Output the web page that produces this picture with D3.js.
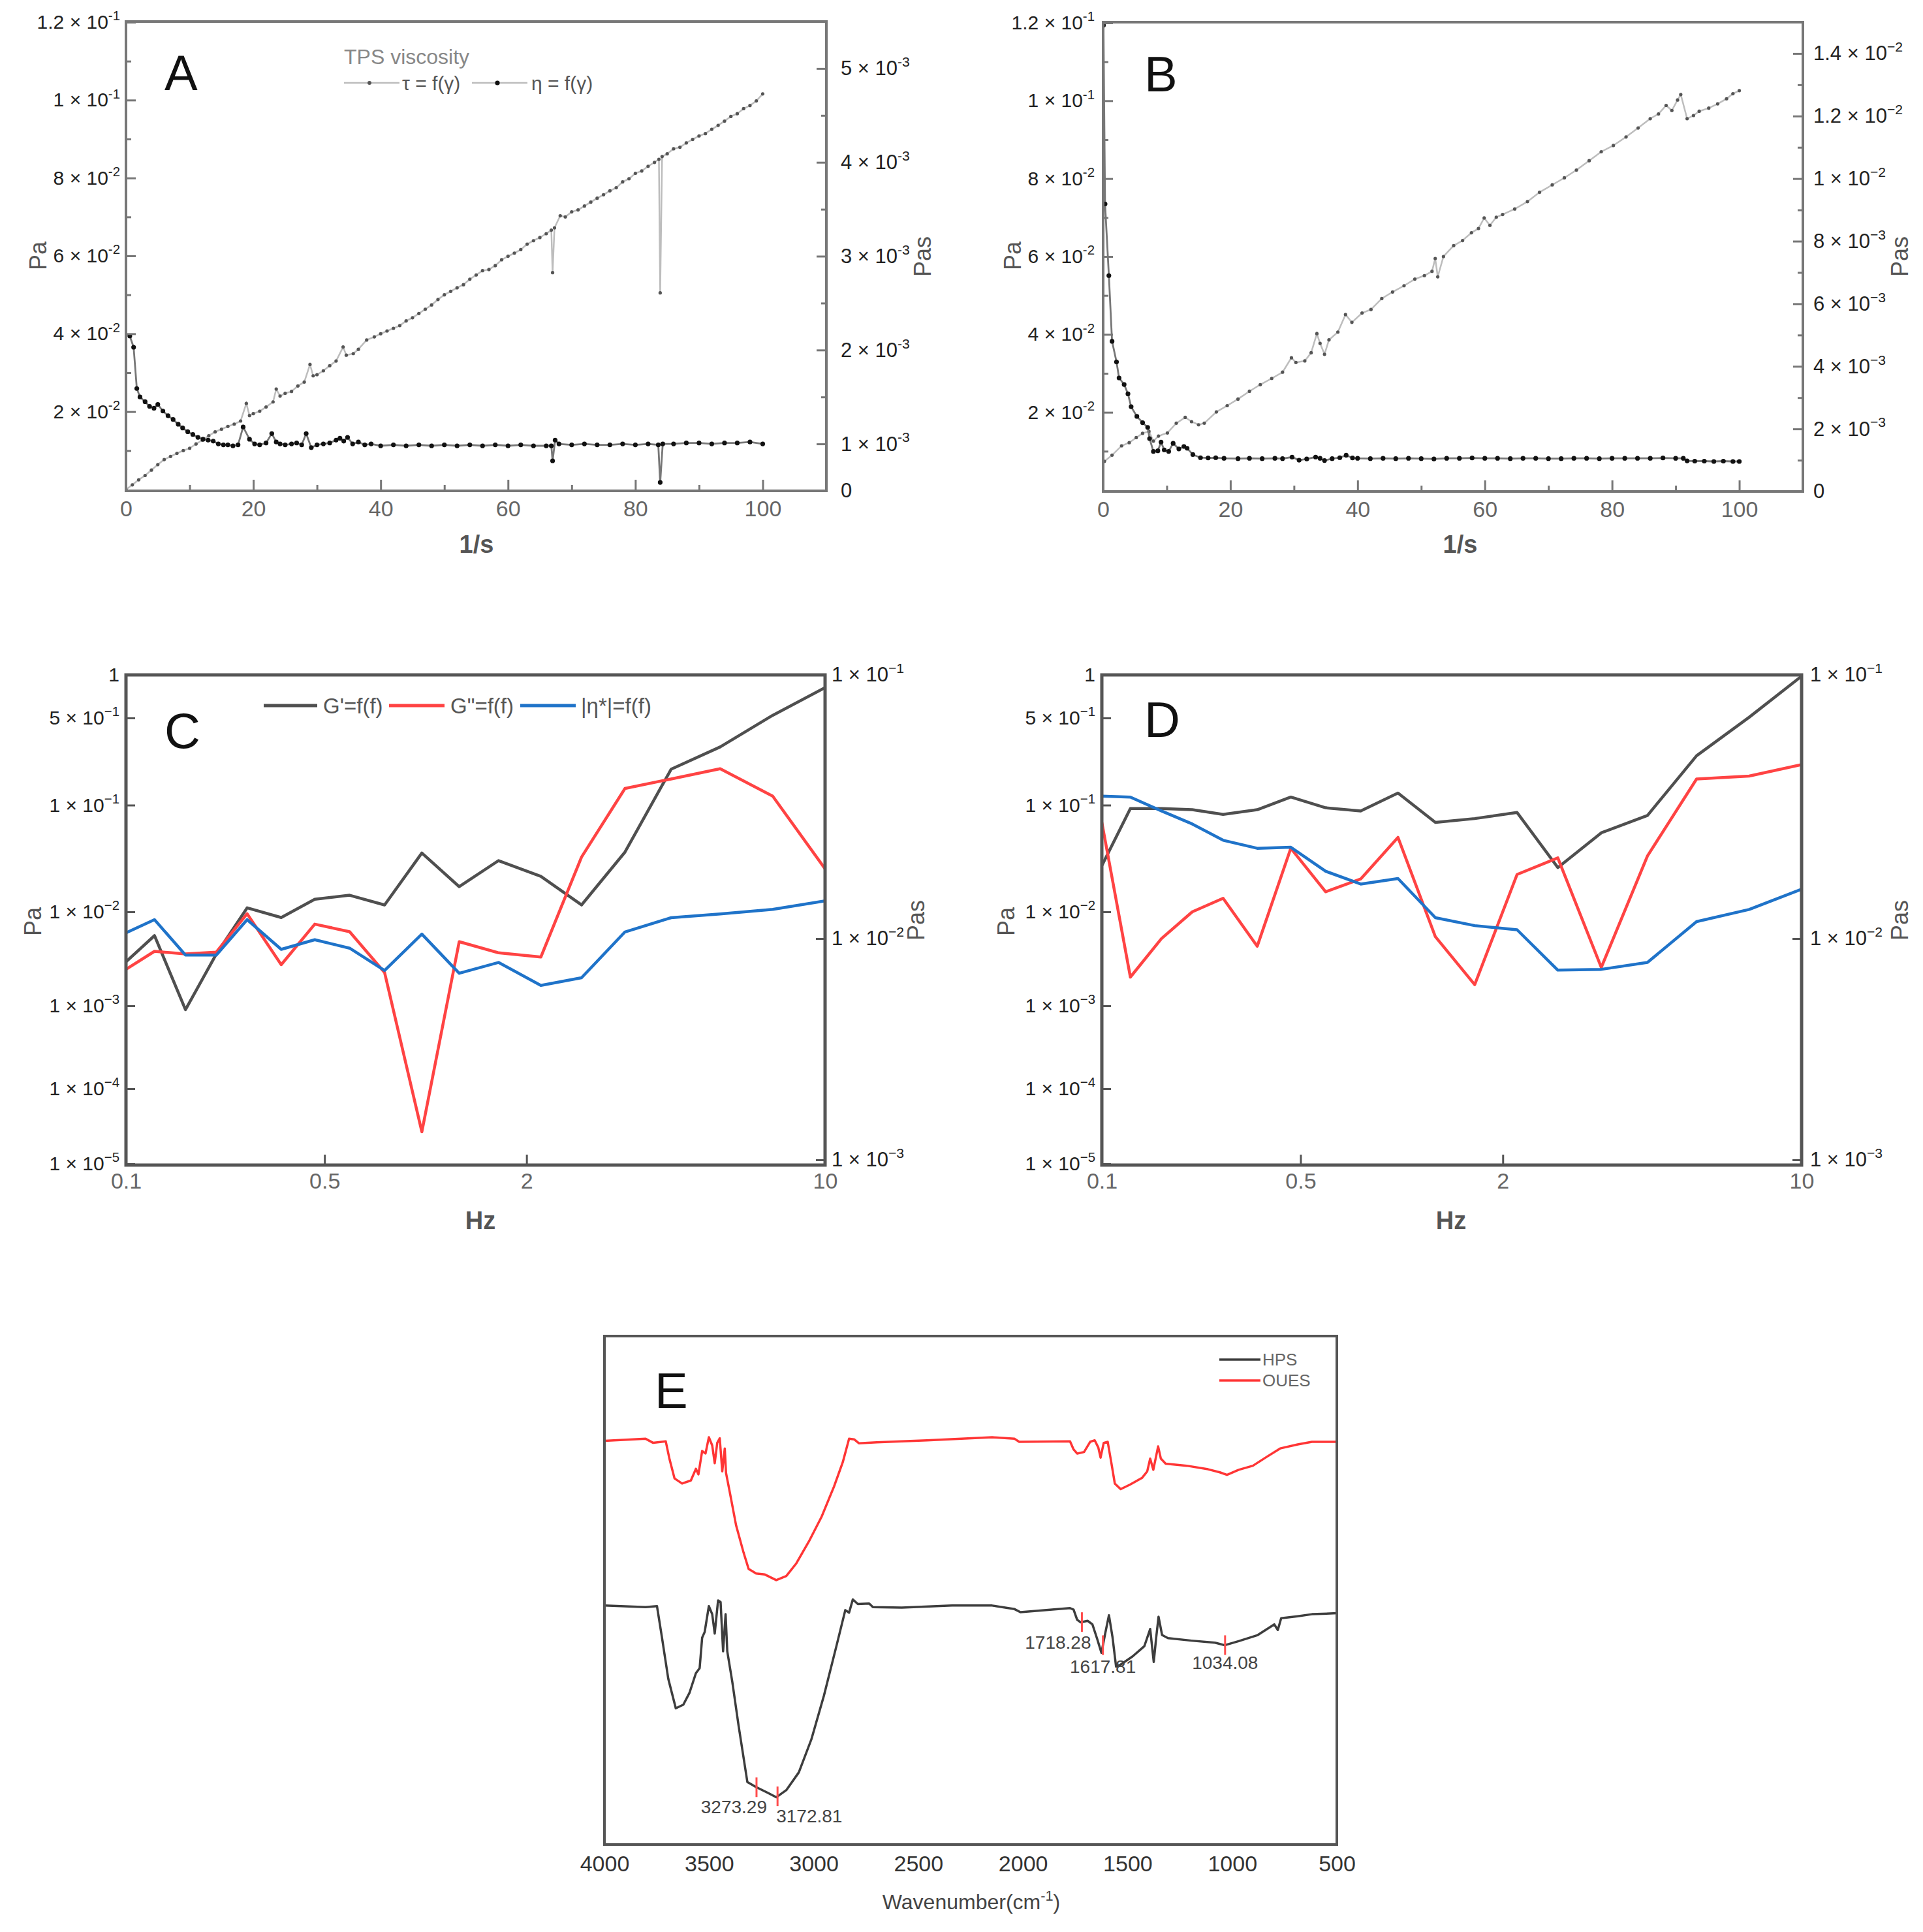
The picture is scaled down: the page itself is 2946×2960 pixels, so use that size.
<!DOCTYPE html>
<html><head><meta charset="utf-8">
<script src="https://cdn.jsdelivr.net/npm/d3@7"></script>
<style>html,body{margin:0;padding:0;background:#fff;} svg{display:block;font-family:"Liberation Sans",Arial,Helvetica,sans-serif;}</style>
</head><body>
<svg id="chart" width="2946" height="2960" viewBox="0 0 2946 2960"></svg>
<script>
// ---------------- DATA ----------------
// Panel A: shear rate (1/s) vs shear stress tau (Pa, left axis) and viscosity eta (Pa s, right axis)
const tauA = [[0,0.0000],[1,0.0012],[2,0.0025],[3,0.0036],[4,0.0050],[5,0.0064],[6,0.0077],[7,0.0085],[8,0.0093],[9,0.0100],
[10,0.0106],[11,0.0117],[12,0.0127],[13,0.0138],[14,0.0148],[15,0.0155],[16,0.0162],[17,0.0168],[18,0.0176],[18.9,0.0221],[19.4,0.0190],
[20,0.0195],[21,0.0201],[22,0.0212],[23.1,0.0225],[23.6,0.0258],[24.2,0.0240],[25,0.0247],[26,0.0252],[27,0.0266],[28,0.0276],[28.9,0.0321],[29.4,0.0292],
[30,0.0295],[31,0.0305],[32,0.0318],[33,0.0330],[34.1,0.0366],[34.6,0.0345],[35.7,0.0349],[36.5,0.0360],[37.8,0.0384],[39,0.0392],
[40,0.0400],[41,0.0407],[42,0.0414],[43,0.0421],[44,0.0433],[45,0.0441],[46,0.0452],[47,0.0463],[48,0.0474],[49,0.0488],
[50,0.0500],[51,0.0509],[52,0.0518],[53,0.0526],[54,0.0540],[55,0.0551],[56,0.0562],[57,0.0565],[58,0.0575],[59,0.0590],
[60,0.0599],[61,0.0607],[62,0.0616],[63,0.0630],[64,0.0639],[65,0.0647],[66,0.0657],[66.8,0.0666],[67,0.0557],[67.3,0.0672],[68.2,0.0703],[69,0.0700],
[70,0.0713],[71,0.0718],[72,0.0728],[73,0.0738],[74,0.0748],[75,0.0757],[76,0.0767],[77,0.0775],[78,0.0790],[79,0.0798],
[80,0.0812],[81,0.0818],[82,0.0830],[83,0.0840],[83.7,0.0848],[83.9,0.0505],[84.2,0.0855],[85,0.0862],[86,0.0875],[87,0.0879],[88,0.0890],[89,0.0899],
[90,0.0908],[91,0.0914],[92,0.0925],[93,0.0935],[94,0.0946],[95,0.0958],[96,0.0965],[97,0.0978],[98,0.0986],[99,0.0998],[100,0.1016]];

const etaA = [[0.6,0.00215],[1.2,0.00203],[1.7,0.00159],[2.2,0.00150],[3,0.00145],[3.7,0.00140],[4.4,0.00138],[5,0.00142],[5.8,0.00135],[6.6,0.00130],
[7.4,0.00126],[8.2,0.00121],[8.9,0.00117],[9.7,0.00113],[10.5,0.00110],[11.3,0.00107],[12.1,0.00105],[12.9,0.00104],[13.7,0.00103],[14.5,0.00100],
[15.3,0.00099],[16,0.00099],[16.8,0.00098],[17.6,0.00099],[18.4,0.00118],[19.4,0.00105],[20.2,0.00100],[21,0.00099],[22,0.00101],[22.9,0.00111],
[23.6,0.00102],[24.2,0.00100],[25,0.00099],[26,0.00100],[26.8,0.00101],[27.6,0.00099],[28.3,0.00111],[29.1,0.00096],[30,0.00099],[31,0.00100],
[32,0.00101],[33,0.00104],[33.6,0.00106],[34.2,0.00103],[34.8,0.00107],[35.6,0.00100],[36.5,0.00102],[37.5,0.00099],[38.5,0.00100],[40,0.00098],
[42,0.00099],[44,0.00098],[46,0.00099],[48,0.00098],[50,0.00099],[52,0.00098],[54,0.00099],[56,0.00098],[58,0.00099],[60,0.00098],
[62,0.00099],[64,0.00098],[66,0.00098],[66.8,0.00098],[67,0.00082],[67.4,0.00104],[68,0.00100],[70,0.00099],[72,0.00100],[74,0.00099],
[76,0.00099],[78,0.00100],[80,0.00099],[82,0.00100],[83.6,0.00099],[83.9,0.00059],[84.3,0.00100],[86,0.00100],[88,0.00101],[90,0.00101],
[92,0.00100],[94,0.00101],[96,0.00101],[98,0.00102],[100,0.00100]];

// Panel B
const tauB = [[0.2,0.0074],[1.4,0.0090],[2.9,0.0114],[4.1,0.0122],[5.2,0.0135],[6.2,0.0146],[7.2,0.0151],[7.9,0.0126],[8.7,0.0139],[10.1,0.0147],
[11.5,0.0172],[12.9,0.0187],[13.9,0.0176],[15.0,0.0168],[15.9,0.0172],[17.8,0.0201],[19.5,0.0217],[21.2,0.0234],[23.0,0.0254],[24.7,0.0271],
[26.5,0.0287],[28.2,0.0303],[29.6,0.0340],[30.3,0.0328],[31.7,0.0332],[32.7,0.0353],[33.6,0.0402],[34.1,0.0377],[34.8,0.0349],[35.5,0.0386],
[36.9,0.0406],[38.1,0.0451],[39.1,0.0431],[40.7,0.0455],[42.1,0.0464],[43.8,0.0492],[45.5,0.0509],[47.3,0.0525],[49.0,0.0542],[50.5,0.0551],
[51.7,0.0562],[52.2,0.0595],[52.6,0.0548],[53.5,0.0600],[55.1,0.0628],[56.5,0.0641],[57.9,0.0661],[59.0,0.0672],[59.9,0.0699],[60.8,0.0680],
[61.8,0.0701],[62.8,0.0708],[64.7,0.0722],[66.7,0.0741],[68.6,0.0765],[70.6,0.0784],[72.5,0.0802],[74.4,0.0822],[76.4,0.0846],[78.3,0.0869],
[80.2,0.0885],[82.2,0.0907],[84.1,0.0930],[86.0,0.0954],[87.3,0.0966],[88.5,0.0988],[89.4,0.0975],[90.3,0.1002],[90.8,0.1016],[91.8,0.0954],
[92.8,0.0962],[93.7,0.0973],[95.2,0.0981],[96.6,0.0992],[98.0,0.1005],[99.0,0.1018],[100,0.1026]];

const etaB = [[0.05,0.0149],[0.3,0.00919],[0.9,0.00690],[1.4,0.00480],[2.1,0.00414],[2.5,0.00363],[3.3,0.00342],[3.9,0.00312],[4.4,0.00271],[5.3,0.00240],
[6.2,0.00220],[7.0,0.00205],[7.3,0.00169],[7.9,0.00128],[8.6,0.00130],[9.1,0.00158],[9.6,0.00133],[10.3,0.00128],[11.0,0.00154],[11.9,0.00136],
[12.7,0.00144],[13.2,0.00138],[14.1,0.00118],[15.3,0.00108],[16.5,0.00107],[17.7,0.00108],[19,0.00106],[21.2,0.00105],[23,0.00106],[25,0.00105],
[27,0.00106],[28.2,0.00105],[29.7,0.00110],[30.8,0.00100],[32,0.00104],[33.4,0.00110],[34.1,0.00106],[34.8,0.00099],[36,0.00105],[37.2,0.00108],
[38.2,0.00116],[39.2,0.00107],[40,0.00106],[42,0.00105],[44,0.00106],[46,0.00105],[48,0.00106],[50,0.00105],[52,0.00104],[54,0.00106],
[56,0.00106],[58,0.00107],[60,0.00106],[62,0.00106],[64,0.00105],[66,0.00106],[68,0.00106],[70,0.00105],[72,0.00105],[74,0.00106],
[76,0.00106],[78,0.00105],[80,0.00106],[82,0.00106],[84,0.00106],[86,0.00106],[88,0.00107],[90,0.00106],[91.2,0.00106],[91.8,0.00098],
[93,0.00097],[94.5,0.00097],[96,0.00096],[97.5,0.00097],[99,0.00096],[100,0.00096]];

// Panels C & D: frequency sweep
const freq = [0.1,0.126,0.162,0.208,0.267,0.352,0.462,0.594,0.755,0.975,1.26,1.65,2.16,2.69,3.40,4.36,5.68,7.54,10];
const gpC  = [2.94e-3,5.58e-3,8.98e-4,3.56e-3,1.09e-2,8.69e-3,1.31e-2,1.43e-2,1.16e-2,3.56e-2,1.72e-2,3.02e-2,2.15e-2,1.16e-2,3.63e-2,0.194,0.293,0.522,0.815];
const gppC = [2.44e-3,3.80e-3,3.56e-3,3.73e-3,9.55e-3,2.74e-3,7.40e-3,6.14e-3,2.26e-3,2.67e-5,4.81e-3,3.66e-3,3.30e-3,3.26e-2,0.136,0.162,0.196,0.118,2.53e-2];
const etaC = [1.052e-2,1.18e-2,8.42e-3,8.42e-3,1.18e-2,8.94e-3,9.88e-3,9.05e-3,7.17e-3,1.04e-2,6.97e-3,7.80e-3,6.14e-3,6.65e-3,1.06e-2,1.20e-2,1.24e-2,1.29e-2,1.39e-2];
const gpD  = [2.71e-2,9.28e-2,9.28e-2,9.05e-2,8.19e-2,9.05e-2,0.116,9.44e-2,8.82e-2,0.125,6.89e-2,7.48e-2,8.53e-2,2.60e-2,5.50e-2,8.00e-2,0.249,0.506,0.98];
const gppD = [6.89e-2,2.02e-3,5.18e-3,1.0e-2,1.34e-2,4.30e-3,3.94e-2,1.54e-2,2.03e-2,4.98e-2,5.43e-3,1.68e-3,2.24e-2,3.20e-2,2.56e-3,3.34e-2,0.162,0.171,0.211];
const etaD = [3.47e-2,3.44e-2,3.05e-2,2.72e-2,2.36e-2,2.20e-2,2.22e-2,1.80e-2,1.61e-2,1.69e-2,1.20e-2,1.12e-2,1.08e-2,7.20e-3,7.26e-3,7.80e-3,1.16e-2,1.29e-2,1.54e-2];

// Panel E: FTIR spectra [wavenumber cm-1, transmittance (a.u.)]
const oues = [[4000,79.4],[3803,79.8],[3767,79.0],[3707,79.3],[3689,75.8],[3665,72.0],[3629,71.0],[3587,71.6],[3563,73.9],[3551,72.8],
[3533,77.4],[3517,76.9],[3501,80.1],[3485,78.5],[3473,75.0],[3461,79.0],[3449,79.9],[3437,73.4],[3425,77.9],[3419,73.1],
[3401,69.3],[3371,62.8],[3335,57.4],[3311,54.2],[3275,53.3],[3233,53.1],[3179,52.0],[3131,52.8],[3083,55.3],[3023,59.6],
[2963,64.4],[2903,70.4],[2861,75.2],[2831,79.8],[2807,79.7],[2783,78.9],[2699,79.1],[2459,79.5],[2147,80.1],[2040,79.8],
[2018,79.2],[1775,79.3],[1758,77.7],[1741,76.9],[1708,77.2],[1679,79.2],[1657,79.5],[1640,78.1],[1629,76.1],[1614,79.0],
[1595,79.2],[1578,75.2],[1561,71.0],[1533,69.9],[1488,70.8],[1431,72.1],[1406,73.4],[1392,75.9],[1377,73.7],[1366,75.9],
[1354,78.3],[1341,75.9],[1318,74.9],[1217,74.5],[1115,73.8],[1059,73.2],[1025,72.7],[969,73.7],[901,74.5],[833,76.3],
[771,77.9],[687,78.7],[619,79.2],[500,79.2]];
const hps = [[4000,47.0],[3803,46.7],[3749,46.9],[3725,40.7],[3695,32.6],[3659,26.8],[3623,27.5],[3593,29.9],[3563,33.7],[3545,34.7],
[3533,40.7],[3521,41.8],[3501,46.9],[3485,45.3],[3473,41.5],[3457,48.0],[3445,47.7],[3433,38.0],[3421,45.3],[3413,38.0],
[3389,32.0],[3359,23.4],[3317,12.3],[3275,11.3],[3221,10.2],[3179,9.3],[3131,10.7],[3071,14.2],[3011,20.7],[2951,29.3],
[2891,39.1],[2849,46.1],[2831,45.6],[2813,48.2],[2789,47.3],[2735,47.4],[2717,46.7],[2579,46.6],[2339,47.0],[2147,47.0],
[2040,46.3],[2012,45.7],[1775,46.5],[1758,46.2],[1741,44.2],[1724,43.7],[1691,44.0],[1668,43.3],[1645,40.4],[1625,37.7],
[1606,41.7],[1589,45.1],[1572,40.8],[1555,35.0],[1533,35.4],[1476,37.0],[1420,39.0],[1392,42.4],[1375,35.9],[1363,40.8],
[1352,44.8],[1335,41.2],[1307,40.6],[1194,40.1],[1082,39.7],[1036,39.2],[969,40.0],[878,41.2],[799,43.3],[782,42.2],
[766,44.5],[687,44.9],[619,45.3],[500,45.5]];
const peakWavenumbers = [3273.29, 3172.81, 1718.28, 1617.81, 1034.08];

// tick values
const xTicksFlow = [0,20,40,60,80,100];
const xMinorFlow = [10,30,50,70,90];
const yLeftFlow = [0.02,0.04,0.06,0.08,0.10,0.12];
const yLeftFlowMinor = [0.01,0.03,0.05,0.07,0.09,0.11];
const yRightA = [0.001,0.002,0.003,0.004,0.005];
const yRightAMinor = [0.0015,0.0025,0.0035,0.0045];
const yRightB = [0,0.002,0.004,0.006,0.008,0.010,0.012,0.014];
const yRightBMinor = [0.001,0.003,0.005,0.007,0.009,0.011,0.013];
const xTicksFreq = [0.1,0.5,2,10];
const yLeftFreq = [1e-5,1e-4,1e-3,1e-2,1e-1,0.5,1];
const yRightFreq = [1e-3,1e-2,1e-1];
const xTicksE = [4000,3500,3000,2500,2000,1500,1000,500];

// ---------------- DRAWING ----------------
const svg = d3.select("#chart");
svg.append("rect").attr("width",2946).attr("height",2960).attr("fill","#fff");

function sciParts(v){
  const e = Math.floor(Math.log10(v) + 1e-9);
  const m = +(v / Math.pow(10, e)).toFixed(2);
  return [String(m), e];
}
function setSci(g, minus, special){
  g.selectAll(".tick text").each(function(d){
    const t = d3.select(this);
    t.text(null);
    const sp = special ? special(d) : null;
    if (sp != null) { t.text(sp); return; }
    const [m, e] = sciParts(d);
    t.append("tspan").text(m + " \u00d7 10");
    t.append("tspan").attr("dy","-0.62em").attr("font-size","0.68em").text((e < 0 ? minus : "") + Math.abs(e));
  });
}
function styleAxis(g, stroke, fs, fill){
  g.select(".domain").remove();
  g.attr("font-family", null).attr("font-size", fs);
  g.selectAll(".tick line").attr("stroke", stroke).attr("stroke-width", 3);
  g.selectAll(".tick text").attr("fill", fill);
}
function frame(x0,y0,x1,y1,color,w){
  svg.append("rect").attr("x",x0).attr("y",y0).attr("width",x1-x0).attr("height",y1-y0)
    .attr("fill","none").attr("stroke",color).attr("stroke-width",w);
}
function rotLabel(x,y,txt,fs){
  svg.append("text").attr("transform",`translate(${x},${y}) rotate(-90)`).attr("text-anchor","middle")
    .attr("dy","0.35em").attr("font-size",fs).attr("fill","#555").text(txt);
}
function plainLabel(x,y,txt,fs,weight){
  svg.append("text").attr("x",x).attr("y",y).attr("text-anchor","middle").attr("dy","0.35em")
    .attr("font-size",fs).attr("font-weight",weight||"normal").attr("fill","#555").text(txt);
}
function letter(x,y,t){
  svg.append("text").attr("x",x).attr("y",y).attr("font-size",76).attr("fill","#111").text(t);
}
function clip(id,x0,y0,x1,y1){
  svg.append("clipPath").attr("id",id).append("rect").attr("x",x0).attr("y",y0).attr("width",x1-x0).attr("height",y1-y0);
  return svg.append("g").attr("clip-path",`url(#${id})`);
}

// ---- Flow curves (A, B) ----
function drawFlow(p){
  const x = d3.scaleLinear().domain([0,110]).range([p.x0, p.x1]);
  const yL = d3.scaleLinear().domain([0,0.12]).range([p.y1-2, p.y0+1]);
  const yR = d3.scaleLinear().domain(p.rDom).range([p.y1, p.y0]);
  const g = clip("clip"+p.id, p.x0, p.y0, p.x1, p.y1);
  const lt = d3.line().x(d=>x(d[0])).y(d=>yL(d[1]));
  const le = d3.line().x(d=>x(d[0])).y(d=>yR(d[1]));
  g.append("path").attr("d", lt(p.tau)).attr("fill","none").attr("stroke","#bdbdbd").attr("stroke-width",2.5);
  g.selectAll(null).data(p.tau).join("circle").attr("cx",d=>x(d[0])).attr("cy",d=>yL(d[1])).attr("r",2.6).attr("fill","#555");
  g.append("path").attr("d", le(p.eta)).attr("fill","none").attr("stroke","#777").attr("stroke-width",2.8);
  g.selectAll(null).data(p.eta).join("circle").attr("cx",d=>x(d[0])).attr("cy",d=>yR(d[1])).attr("r",3.6).attr("fill","#111");

  frame(p.x0,p.y0,p.x1,p.y1,"#777",4);
  const gl = svg.append("g").attr("transform",`translate(${p.x0},0)`)
    .call(d3.axisLeft(yL).tickValues(yLeftFlow).tickSize(-15).tickSizeOuter(0).tickPadding(p.lPad));
  styleAxis(gl,"#777",30,"#222"); setSci(gl,"-");
  const glm = svg.append("g").attr("transform",`translate(${p.x0},0)`)
    .call(d3.axisLeft(yL).tickValues(yLeftFlowMinor).tickSize(-8).tickFormat(""));
  styleAxis(glm,"#777",30,"#222");
  const gr = svg.append("g").attr("transform",`translate(${p.x1},0)`)
    .call(d3.axisRight(yR).tickValues(p.rTicks).tickSize(-15).tickSizeOuter(0).tickPadding(p.rPad));
  styleAxis(gr,"#777",31,"#222"); setSci(gr,p.minus, d => (d === p.rDom[0] ? "0" : null));
  const grm = svg.append("g").attr("transform",`translate(${p.x1},0)`)
    .call(d3.axisRight(yR).tickValues(p.rMinor).tickSize(-8).tickFormat(""));
  styleAxis(grm,"#777",30,"#222");
  const gb = svg.append("g").attr("transform",`translate(0,${p.y1})`)
    .call(d3.axisBottom(x).tickValues(xTicksFlow).tickSize(-17).tickSizeOuter(0).tickPadding(15));
  styleAxis(gb,"#777",34,"#666");
  const gbm = svg.append("g").attr("transform",`translate(0,${p.y1})`)
    .call(d3.axisBottom(x).tickValues(xMinorFlow).tickSize(-9).tickFormat(""));
  styleAxis(gbm,"#777",30,"#666");

  rotLabel(p.paX, 392, "Pa", 36);
  rotLabel(p.pasX, 393, "Pas", 36);
  plainLabel(p.titleX, 834, "1/s", 38, "bold");
  letter(p.letterX, p.letterY, p.id);
  return {x, yL, yR};
}

drawFlow({id:"A", x0:193, x1:1266, y0:33, y1:752, rDom:[0.0005,0.0055],
  rTicks:[0.0005].concat(yRightA), rMinor:yRightAMinor, lPad:9, rPad:22, minus:"-",
  tau:tauA, eta:etaA, paX:58, pasX:1413, titleX:730, letterX:252, letterY:138});
drawFlow({id:"B", x0:1690, x1:2762, y0:34, y1:753, rDom:[0,0.015],
  rTicks:yRightB, rMinor:yRightBMinor, lPad:13, rPad:16, minus:"\u2212",
  tau:tauB, eta:etaB, paX:1551, pasX:2910, titleX:2237, letterX:1753, letterY:140});

// legend A
(function(){
  svg.append("text").attr("x",527).attr("y",98).attr("font-size",32).attr("fill","#888").text("TPS viscosity");
  const ly = 127;
  svg.append("line").attr("x1",527).attr("x2",612).attr("y1",ly).attr("y2",ly).attr("stroke","#bdbdbd").attr("stroke-width",2.5);
  svg.append("circle").attr("cx",566).attr("cy",ly).attr("r",3).attr("fill","#555");
  svg.append("text").attr("x",616).attr("y",ly).attr("dy","0.35em").attr("font-size",30).attr("fill","#555").text("\u03c4 = f(\u03b3)");
  svg.append("line").attr("x1",723).attr("x2",808).attr("y1",ly).attr("y2",ly).attr("stroke","#bdbdbd").attr("stroke-width",2.5);
  svg.append("circle").attr("cx",762).attr("cy",ly).attr("r",3.6).attr("fill","#111");
  svg.append("text").attr("x",814).attr("y",ly).attr("dy","0.35em").attr("font-size",30).attr("fill","#555").text("\u03b7 = f(\u03b3)");
})();

// ---- Frequency sweeps (C, D) ----
function drawFreq(p){
  const w = p.x1 - p.x0;
  const x = d3.scaleLog().domain(xTicksFreq).range([p.x0, p.x0 + 0.284*w, p.x0 + 0.573*w, p.x1]);
  const yL = d3.scaleLog().domain(yLeftFreq).range([1783,1668,1541,1397,1233.5,1100,1034]);
  const yR = d3.scaleLog().domain(yRightFreq).range([1777,1438,1034]);
  const g = clip("clip"+p.id, p.x0, p.y0, p.x1, p.y1);
  const series = [
    {v:p.gp, y:yL, c:"#4f4f4f"},
    {v:p.gpp, y:yL, c:"#ff4343"},
    {v:p.eta, y:yR, c:"#1f73c9"}
  ];
  series.forEach(s=>{
    const ln = d3.line().x((d,i)=>x(freq[i])).y(d=>s.y(d));
    g.append("path").attr("d", ln(s.v)).attr("fill","none").attr("stroke",s.c).attr("stroke-width",4.5).attr("stroke-linejoin","round");
  });
  frame(p.x0,p.y0,p.x1,p.y1,"#555",5);
  const gl = svg.append("g").attr("transform",`translate(${p.x0},0)`)
    .call(d3.axisLeft(yL).tickValues(yLeftFreq).tickSize(-14).tickSizeOuter(0).tickPadding(p.lPad));
  styleAxis(gl,"#555",30,"#222"); setSci(gl,"\u2212", d => (d === 1 ? "1" : null));
  const gr = svg.append("g").attr("transform",`translate(${p.x1},0)`)
    .call(d3.axisRight(yR).tickValues(yRightFreq).tickSize(-14).tickSizeOuter(0).tickPadding(p.rPad));
  styleAxis(gr,"#555",31,"#222"); setSci(gr,"\u2212");
  const gb = svg.append("g").attr("transform",`translate(0,${p.y1})`)
    .call(d3.axisBottom(x).tickValues(xTicksFreq).tickSize(-16).tickSizeOuter(0).tickPadding(12).tickFormat(d3.format("")));
  styleAxis(gb,"#555",34,"#666");
  rotLabel(p.paX, 1412, "Pa", 36);
  rotLabel(p.pasX, 1410, "Pas", 36);
  plainLabel(p.titleX, 1870, "Hz", 38, "bold");
  letter(p.letterX, p.letterY, p.id);
}
drawFreq({id:"C", x0:193, x1:1264, y0:1034, y1:1785, lPad:10, rPad:10, gp:gpC, gpp:gppC, eta:etaC,
  paX:50, pasX:1403, titleX:736, letterX:252, letterY:1146});
drawFreq({id:"D", x0:1688, x1:2760, y0:1034, y1:1785, lPad:10, rPad:13, gp:gpD, gpp:gppD, eta:etaD,
  paX:1541, pasX:2910, titleX:2223, letterX:1753, letterY:1129});

// legend C
(function(){
  const ly = 1081;
  const items = [
    {x1:404,x2:486,tx:495,c:"#4f4f4f",t:"G'=f(f)"},
    {x1:596,x2:681,tx:690,c:"#ff4343",t:"G\"=f(f)"},
    {x1:797,x2:882,tx:890,c:"#1f73c9",t:"|\u03b7*|=f(f)"}
  ];
  items.forEach(it=>{
    svg.append("line").attr("x1",it.x1).attr("x2",it.x2).attr("y1",ly).attr("y2",ly).attr("stroke",it.c).attr("stroke-width",5);
    svg.append("text").attr("x",it.tx).attr("y",ly).attr("dy","0.35em").attr("font-size",33).attr("fill","#555").text(it.t);
  });
})();

// ---- FTIR (E) ----
(function(){
  const x0=926, x1=2048, y0=2047, y1=2826;
  const x = d3.scaleLinear().domain([4000,500]).range([x0,x1]);
  const y = d3.scaleLinear().domain([0,100]).range([y1,y0]);
  const g = clip("clipE", x0, y0, x1, y1);
  const ln = d3.line().x(d=>x(d[0])).y(d=>y(d[1]));
  g.append("path").attr("d", ln(oues)).attr("fill","none").attr("stroke","#ff3535").attr("stroke-width",3.5).attr("stroke-linejoin","round");
  g.append("path").attr("d", ln(hps)).attr("fill","none").attr("stroke","#3d3d3d").attr("stroke-width",3.5).attr("stroke-linejoin","round");
  frame(x0,y0,x1,y1,"#555",4);
  const gb = svg.append("g").attr("transform",`translate(0,${y1})`)
    .call(d3.axisBottom(x).tickValues(xTicksE).tickSize(0).tickPadding(17).tickFormat(d3.format("")));
  styleAxis(gb,"#555",34,"#333");

  // peak annotations
  function interp(data, w){
    for (let i=0;i<data.length-1;i++){
      const a=data[i], b=data[i+1];
      if (w<=a[0] && w>=b[0]) { const t=(a[0]-w)/(a[0]-b[0]); return a[1]+(b[1]-a[1])*t; }
    }
    return data[data.length-1][1];
  }
  const annLayout = [
    {anchor:"end", dx:16, dy:40},
    {anchor:"start", dx:-2, dy:40},
    {anchor:"end", dx:14, dy:41},
    {anchor:"middle", dx:0, dy:42},
    {anchor:"middle", dx:0, dy:37}
  ];
  peakWavenumbers.forEach((w,i)=>{
    const px = x(w), py = y(interp(hps,w));
    svg.append("line").attr("x1",px).attr("x2",px).attr("y1",py-15).attr("y2",py+15).attr("stroke","#ff4d4d").attr("stroke-width",3);
    const L = annLayout[i];
    svg.append("text").attr("x",px+L.dx).attr("y",py+L.dy).attr("text-anchor",L.anchor)
      .attr("font-size",28).attr("fill","#444").text(w.toFixed(2));
  });

  // legend
  const lg = [{y:2083,c:"#3d3d3d",t:"HPS"},{y:2115,c:"#ff3535",t:"OUES"}];
  lg.forEach(l=>{
    svg.append("line").attr("x1",1868).attr("x2",1931).attr("y1",l.y).attr("y2",l.y).attr("stroke",l.c).attr("stroke-width",3.5);
    svg.append("text").attr("x",1934).attr("y",l.y).attr("dy","0.35em").attr("font-size",26).attr("fill","#666").text(l.t);
  });

  // axis title
  const t = svg.append("text").attr("x",1488).attr("y",2914).attr("text-anchor","middle").attr("dy","0.35em")
    .attr("font-size",32).attr("fill","#444");
  t.append("tspan").text("Wavenumber(cm");
  t.append("tspan").attr("dy","-0.6em").attr("font-size","0.68em").text("-1");
  t.append("tspan").attr("dy","0.41em").text(")");
  letter(1003, 2157, "E");
})();
</script>
</body></html>
